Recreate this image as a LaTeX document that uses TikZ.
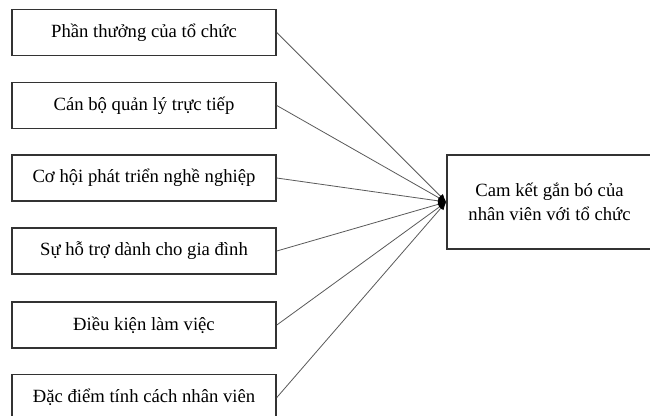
\documentclass[tikz,border=0pt]{standalone}
\usepackage{fontspec}
\setmainfont{Liberation Serif}
\usetikzlibrary{arrows.meta}

\begin{document}
\begin{tikzpicture}[x=0.75pt, y=-0.75pt,
	factor/.style={draw=black!80, line width=1.2pt, minimum width=198pt, minimum height=34.5pt, inner sep=0pt, font=\fontsize{14}{18}\selectfont},
	link/.style={black!65, line width=0.6pt, -{Latex[length=6pt,width=5pt,black]}}]
	\clip (0,0) rectangle (650,415);
	\node[factor] (f1) at (144,32.5) {Phần thưởng của tổ chức};
	\node[factor] (f2) at (144,105.5) {Cán bộ quản lý trực tiếp};
	\node[factor] (f3) at (144,178) {Cơ hội phát triển nghề nghiệp};
	\node[factor] (f4) at (144,251) {Sự hỗ trợ dành cho gia đình};
	\node[factor] (f5) at (144,325) {Điều kiện làm việc};
	\node[factor] (f6) at (144,397.5) {Đặc điểm tính cách nhân viên};
	\node[factor, minimum width=153.75pt, minimum height=70.5pt, align=center] (cam) at (549.5,202) {Cam kết gắn bó của\\nhân viên với tổ chức};
	\foreach \i in {1,...,6} {\draw[link] (f\i.east) -- (cam.west);}
\end{tikzpicture}
\end{document}
